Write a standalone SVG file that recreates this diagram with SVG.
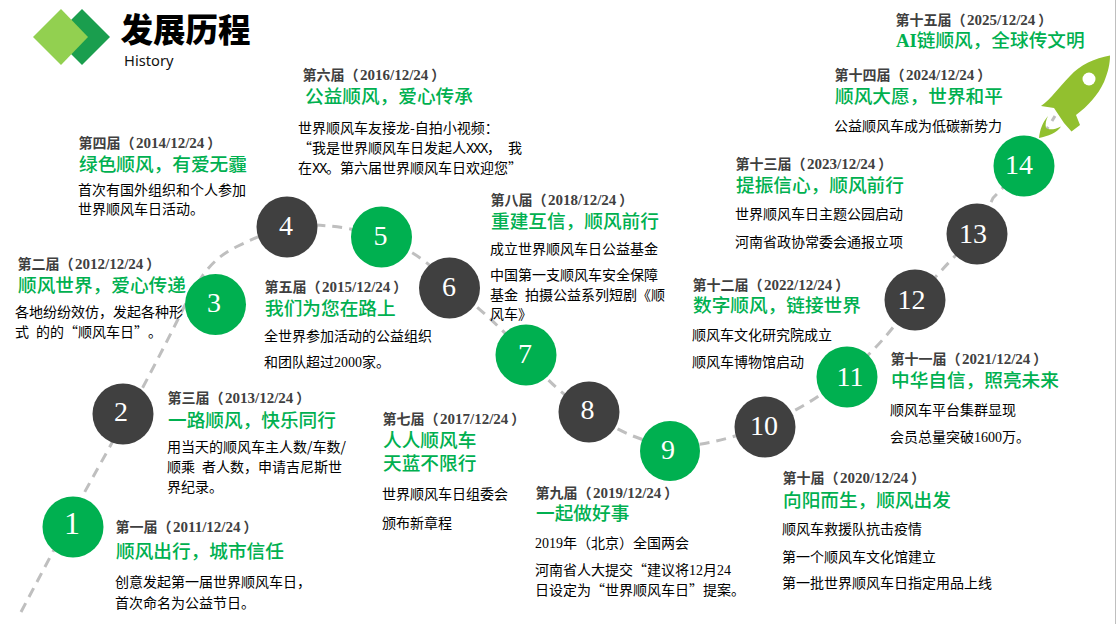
<svg xmlns="http://www.w3.org/2000/svg" width="1116" height="624" viewBox="0 0 1116 624" lang="zh-CN">
<style>
text{font-family:"Noto Sans CJK SC",sans-serif;text-spacing-trim:space-all}
.l{font:bold 14px "Noto Sans CJK SC",sans-serif;fill:#404040;transform:translateX(.5px)}
.l tspan{font:bold 15px "Liberation Serif",serif}
.l tspan.p{font:bold 14px "Noto Sans CJK SC",sans-serif}
.h{font:500 18.67px "Liberation Serif","Noto Sans CJK SC",serif;fill:#00B050}
.h tspan{font-weight:bold}
.b{font-size:14px;fill:#000}
.d{font-family:"Liberation Serif",serif}
.x{font:14px "Liberation Mono",monospace;letter-spacing:-1.400px}
.q{font-feature-settings:"fwid"}
.n{font:28px "Liberation Serif",serif;fill:#fff;text-anchor:middle}
.g{fill:#00B050}
.k{fill:#404040}
.c{fill:none;stroke:#BFBFBF;stroke-width:3;stroke-dasharray:10 7}
</style>
<rect width="1116" height="624" fill="#fff"/>
<rect x="1115" y="0" width="1" height="624" fill="#BFBFBF"/>
<g id="header">
<polygon points="54,37 82,9 110,37 82,65" fill="#1A9E4E"/>
<polygon points="33,37 61,9 88,37 61,65" fill="#92D050"/>
<text x="120.500" y="42" style="font-size:32.5px;font-weight:900" fill="#000">发展历程</text>
<text x="124" y="66" style="font-family:'Noto Sans',sans-serif;font-size:14.7px" fill="#111">History</text>
</g>
<g id="connectors">
<path class="c" d="M21,612 L83,495 L143,387 Q172,332 181,313 Q190,295 203,275 Q217,256 236,247 Q255,238 271,231 Q287,224 313,225 Q340,226 360,231 Q381,237 400,246 Q420,256 435,270 Q450,285 470,301 Q490,318 508,336 Q526,355 540,371 Q555,388 572,400 Q589,412 607,423 Q625,434 647,441 Q670,449 694,445 Q718,442 741,434 Q765,427 786,415 Q808,404 827,390 Q847,377 864,359 Q882,342 898,321 Q915,300 931,282 Q947,264 962,249 Q977,234 993,198 L1024,166 L1055,116"/>
</g>
<g id="rocket">
<path d="M1110,55.500 C1095,58 1080,65 1070,76 C1058,88 1052,98 1041,106 L1054,108 L1064,123 L1071.500,131.500 L1080,125 L1076,115 C1088,106 1098,95 1104,82 C1108,72 1110,64 1110,55.500Z" fill="#92C02F"/>
<circle cx="1089" cy="79" r="6.500" fill="#fff"/>
<path d="M1048,116 C1042,123 1040,130 1039,138 C1048,136 1057,133 1061,126.500 C1054,130 1049,130 1046,128 C1045,124 1046,120 1048,116Z" fill="#92C02F"/>
</g>
<g id="node-1"><circle class="g" cx="73" cy="527" r="30.500"/><text class="n" x="72" y="534" style="font-size:32px">1</text>
<text class="l" x="115" y="532">第一届（<tspan dx="1.5">2011/12/24</tspan><tspan class="p" dx="3">）</tspan></text><text class="h" x="116" y="558">顺风出行，城市信任</text>
<text class="b" x="115" y="587">创意发起第一届世界顺风车日，</text><text class="b" x="115" y="608">首次命名为公益节日。</text></g>
<g id="node-2"><circle class="k" cx="123" cy="414" r="30.500"/><text class="n" x="121" y="421">2</text>
<text class="l" x="17" y="269">第二届（<tspan dx="1.5">2012/12/24</tspan><tspan class="p" dx="3">）</tspan></text><text class="h" x="18" y="292">顺风世界，爱心传递</text>
<text class="b" x="15" y="317">各地纷纷效仿，发起各种形</text><text class="b" x="15" y="336.500">式<tspan dx="7">的的</tspan><tspan class="q">“</tspan>顺风车日<tspan class="q">”</tspan>。</text></g>
<g id="node-3"><circle class="g" cx="215.500" cy="304.500" r="30.500"/><text class="n" x="214" y="312">3</text>
<text class="l" x="167" y="403">第三届（<tspan dx="1.5">2013/12/24</tspan><tspan class="p" dx="3">）</tspan></text><text class="h" x="168" y="426.500">一路顺风，快乐同行</text>
<text class="b" x="167" y="452">用当天的顺风车主人数/车数/</text><text class="b" x="167" y="472">顺乘<tspan dx="7">者人数，申请吉尼斯世</tspan></text><text class="b" x="167" y="492">界纪录。</text></g>
<g id="node-4"><circle class="k" cx="287" cy="227" r="30.500"/><text class="n" x="286" y="235">4</text>
<text class="l" x="78" y="148">第四届（<tspan dx="1.5">2014/12/24</tspan><tspan class="p" dx="3">）</tspan></text><text class="h" x="79" y="171">绿色顺风，有爱无霾</text>
<text class="b" x="78" y="195">首次有国外组织和个人参加</text><text class="b" x="78" y="214">世界顺风车日活动。</text></g>
<g id="node-5"><circle class="g" cx="381.500" cy="237" r="30.500"/><text class="n" x="380.500" y="245">5</text>
<text class="l" x="264" y="291.500">第五届（<tspan dx="1.5">2015/12/24</tspan><tspan class="p" dx="3">）</tspan></text><text class="h" x="265" y="314.500">我们为您在路上</text>
<text class="b" x="264" y="341">全世界参加活动的公益组织</text><text class="b" x="264" y="367">和团队超过<tspan class="d">2000</tspan>家。</text></g>
<g id="node-6"><circle class="k" cx="449.500" cy="288" r="30.500"/><text class="n" x="449" y="296">6</text>
<text class="l" x="302" y="80">第六届（<tspan dx="1.5">2016/12/24</tspan><tspan class="p" dx="3">）</tspan></text><text class="h" x="305" y="103">公益顺风，爱心传承</text>
<text class="b" x="298" y="133">世界顺风车友接龙-自拍小视频：</text><text class="b" x="298" y="153"><tspan class="q">“</tspan>我是世界顺风车日发起人<tspan class="x">XXX</tspan>，<tspan dx="7">我</tspan></text><text class="b" x="298" y="173">在<tspan class="x">XX</tspan>。第六届世界顺风车日欢迎您<tspan class="q">”</tspan></text></g>
<g id="node-7"><circle class="g" cx="526" cy="355" r="30.500"/><text class="n" x="525" y="363">7</text>
<text class="l" x="382" y="424">第七届（<tspan dx="1.5">2017/12/24</tspan><tspan class="p" dx="3">）</tspan></text><text class="h" x="383" y="446.500">人人顺风车</text><text class="h" x="383" y="470">天蓝不限行</text>
<text class="b" x="382" y="499">世界顺风车日组委会</text><text class="b" x="382" y="528">颁布新章程</text></g>
<g id="node-8"><circle class="k" cx="589" cy="412" r="30.500"/><text class="n" x="587.500" y="419">8</text>
<text class="l" x="490" y="205">第八届（<tspan dx="1.5">2018/12/24</tspan><tspan class="p" dx="3">）</tspan></text><text class="h" x="491" y="228">重建互信，顺风前行</text>
<text class="b" x="490" y="254">成立世界顺风车日公益基金</text><text class="b" x="490" y="280">中国第一支顺风车安全保障</text><text class="b" x="490" y="300">基金<tspan dx="7">拍摄公益系列短剧</tspan><tspan class="q">《</tspan>顺</text><text class="b" x="490" y="319">风车<tspan class="q">》</tspan></text></g>
<g id="node-9"><circle class="g" cx="670" cy="451" r="30"/><text class="n" x="668" y="459">9</text>
<text class="l" x="535" y="497.500">第九届（<tspan dx="1.5">2019/12/24</tspan><tspan class="p" dx="3">）</tspan></text><text class="h" x="536" y="520">一起做好事</text>
<text class="b" x="535" y="548"><tspan class="d">2019</tspan>年（北京）全国两会</text><text class="b" x="535" y="575">河南省人大提交<tspan class="q">“</tspan>建议将<tspan class="d">12</tspan>月<tspan class="d">24</tspan></text><text class="b" x="535" y="595">日设定为<tspan class="q">“</tspan>世界顺风车日<tspan class="q">”</tspan>提案。</text></g>
<g id="node-10"><circle class="k" cx="765" cy="427" r="30.500"/><text class="n" x="764" y="435">10</text>
<text class="l" x="782" y="482.500">第十届（<tspan dx="1.5">2020/12/24</tspan><tspan class="p" dx="3">）</tspan></text><text class="h" x="783" y="506.500">向阳而生，顺风出发</text>
<text class="b" x="782" y="534">顺风车救援队抗击疫情</text><text class="b" x="782" y="562">第一个顺风车文化馆建立</text><text class="b" x="782" y="588">第一批世界顺风车日指定用品上线</text></g>
<g id="node-11"><circle class="g" cx="847" cy="377" r="30.500"/><text class="n" x="850" y="386">11</text>
<text class="l" x="890" y="364">第十一届（<tspan dx="1.5">2021/12/24</tspan><tspan class="p" dx="3">）</tspan></text><text class="h" x="891" y="387">中华自信，照亮未来</text>
<text class="b" x="890" y="415">顺风车平台集群显现</text><text class="b" x="890" y="442">会员总量突破<tspan class="d">1600</tspan>万。</text></g>
<g id="node-12"><circle class="k" cx="915" cy="300" r="30.500"/><text class="n" x="911.500" y="309">12</text>
<text class="l" x="692" y="290">第十二届（<tspan dx="1.5">2022/12/24</tspan><tspan class="p" dx="3">）</tspan></text><text class="h" x="693" y="312">数字顺风，链接世界</text>
<text class="b" x="692" y="340">顺风车文化研究院成立</text><text class="b" x="692" y="367">顺风车博物馆启动</text></g>
<g id="node-13"><circle class="k" cx="977" cy="234" r="30.500"/><text class="n" x="973" y="243">13</text>
<text class="l" x="735" y="169">第十三届（<tspan dx="1.5">2023/12/24</tspan><tspan class="p" dx="3">）</tspan></text><text class="h" x="736" y="191.500">提振信心，顺风前行</text>
<text class="b" x="735" y="219">世界顺风车日主题公园启动</text><text class="b" x="735" y="247">河南省政协常委会通报立项</text></g>
<g id="node-14"><circle class="g" cx="1024" cy="166" r="30.500"/><text class="n" x="1019" y="174">14</text>
<text class="l" x="834" y="80">第十四届（<tspan dx="1.5">2024/12/24</tspan><tspan class="p" dx="3">）</tspan></text><text class="h" x="835" y="103">顺风大愿，世界和平</text>
<text class="b" x="834" y="131">公益顺风车成为低碳新势力</text></g>
<g id="node-15"><text class="l" x="895" y="25">第十五届（<tspan dx="1.5">2025/12/24</tspan><tspan class="p" dx="3">）</tspan></text><text class="h" x="896" y="47"><tspan>AI</tspan>链顺风，全球传文明</text></g>
</svg>
